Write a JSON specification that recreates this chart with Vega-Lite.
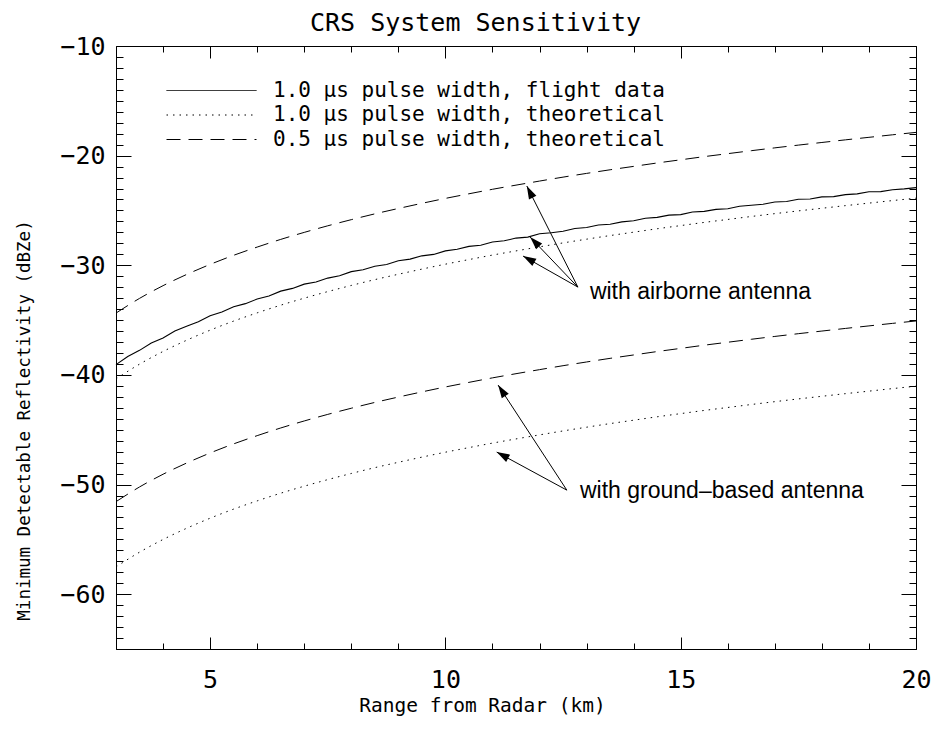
{
  "$schema": "https://vega.github.io/schema/vega-lite/v6.json",
  "width": 800,
  "height": 603,
  "autosize": {"type": "none"},
  "padding": {"left": 116, "top": 46, "right": 18, "bottom": 80},
  "background": "white",
  "config": {
    "view": {"stroke": "black", "strokeWidth": 1},
    "axis": {"domain": false, "grid": false, "tickColor": "black", "tickWidth": 1, "labelColor": "black", "titleColor": "black"}
  },
  "datasets": {
    "theory": [
      {"r": 3, "a05": -34.36, "a10": -40.36, "g05": -51.56, "g10": -57.51},
      {"r": 3.5, "a05": -33.02, "a10": -39.02, "g05": -50.22, "g10": -56.17},
      {"r": 4, "a05": -31.86, "a10": -37.86, "g05": -49.06, "g10": -55.01},
      {"r": 4.5, "a05": -30.84, "a10": -36.84, "g05": -48.04, "g10": -53.99},
      {"r": 5, "a05": -29.92, "a10": -35.92, "g05": -47.12, "g10": -53.07},
      {"r": 5.5, "a05": -29.09, "a10": -35.09, "g05": -46.29, "g10": -52.24},
      {"r": 6, "a05": -28.34, "a10": -34.34, "g05": -45.54, "g10": -51.49},
      {"r": 6.5, "a05": -27.64, "a10": -33.64, "g05": -44.84, "g10": -50.79},
      {"r": 7, "a05": -27.0, "a10": -33.0, "g05": -44.2, "g10": -50.15},
      {"r": 7.5, "a05": -26.4, "a10": -32.4, "g05": -43.6, "g10": -49.55},
      {"r": 8, "a05": -25.84, "a10": -31.84, "g05": -43.04, "g10": -48.99},
      {"r": 8.5, "a05": -25.31, "a10": -31.31, "g05": -42.51, "g10": -48.46},
      {"r": 9, "a05": -24.82, "a10": -30.82, "g05": -42.02, "g10": -47.97},
      {"r": 9.5, "a05": -24.35, "a10": -30.35, "g05": -41.55, "g10": -47.5},
      {"r": 10, "a05": -23.9, "a10": -29.9, "g05": -41.1, "g10": -47.05},
      {"r": 10.5, "a05": -23.48, "a10": -29.48, "g05": -40.68, "g10": -46.63},
      {"r": 11, "a05": -23.07, "a10": -29.07, "g05": -40.27, "g10": -46.22},
      {"r": 11.5, "a05": -22.69, "a10": -28.69, "g05": -39.89, "g10": -45.84},
      {"r": 12, "a05": -22.32, "a10": -28.32, "g05": -39.52, "g10": -45.47},
      {"r": 12.5, "a05": -21.96, "a10": -27.96, "g05": -39.16, "g10": -45.11},
      {"r": 13, "a05": -21.62, "a10": -27.62, "g05": -38.82, "g10": -44.77},
      {"r": 13.5, "a05": -21.29, "a10": -27.29, "g05": -38.49, "g10": -44.44},
      {"r": 14, "a05": -20.98, "a10": -26.98, "g05": -38.18, "g10": -44.13},
      {"r": 14.5, "a05": -20.67, "a10": -26.67, "g05": -37.87, "g10": -43.82},
      {"r": 15, "a05": -20.38, "a10": -26.38, "g05": -37.58, "g10": -43.53},
      {"r": 15.5, "a05": -20.09, "a10": -26.09, "g05": -37.29, "g10": -43.24},
      {"r": 16, "a05": -19.82, "a10": -25.82, "g05": -37.02, "g10": -42.97},
      {"r": 16.5, "a05": -19.55, "a10": -25.55, "g05": -36.75, "g10": -42.7},
      {"r": 17, "a05": -19.29, "a10": -25.29, "g05": -36.49, "g10": -42.44},
      {"r": 17.5, "a05": -19.04, "a10": -25.04, "g05": -36.24, "g10": -42.19},
      {"r": 18, "a05": -18.8, "a10": -24.8, "g05": -36.0, "g10": -41.95},
      {"r": 18.5, "a05": -18.56, "a10": -24.56, "g05": -35.76, "g10": -41.71},
      {"r": 19, "a05": -18.33, "a10": -24.33, "g05": -35.53, "g10": -41.48},
      {"r": 19.5, "a05": -18.1, "a10": -24.1, "g05": -35.3, "g10": -41.25},
      {"r": 20, "a05": -17.88, "a10": -23.88, "g05": -35.08, "g10": -41.03}
    ],
    "styles": [
      {"k": "a05", "style": "0.5 μs pulse width, theoretical"},
      {"k": "g05", "style": "0.5 μs pulse width, theoretical"},
      {"k": "a10", "style": "1.0 μs pulse width, theoretical"},
      {"k": "g10", "style": "1.0 μs pulse width, theoretical"}
    ],
    "flight": [
      {"r": 3, "v": -39.06}, {"r": 3.25, "v": -38.32}, {"r": 3.5, "v": -37.76}, {"r": 3.75, "v": -37.09},
      {"r": 4, "v": -36.63}, {"r": 4.25, "v": -36.0}, {"r": 4.5, "v": -35.57}, {"r": 4.75, "v": -35.16},
      {"r": 5, "v": -34.61}, {"r": 5.25, "v": -34.26}, {"r": 5.5, "v": -33.78}, {"r": 5.75, "v": -33.5},
      {"r": 6, "v": -33.08}, {"r": 6.25, "v": -32.8}, {"r": 6.5, "v": -32.36}, {"r": 6.75, "v": -32.11},
      {"r": 7, "v": -31.72}, {"r": 7.25, "v": -31.53}, {"r": 7.5, "v": -31.17}, {"r": 7.75, "v": -30.95},
      {"r": 8, "v": -30.58}, {"r": 8.25, "v": -30.41}, {"r": 8.5, "v": -30.09}, {"r": 8.75, "v": -29.93},
      {"r": 9, "v": -29.59}, {"r": 9.25, "v": -29.44}, {"r": 9.5, "v": -29.14}, {"r": 9.75, "v": -29.01},
      {"r": 10, "v": -28.69}, {"r": 10.25, "v": -28.54}, {"r": 10.5, "v": -28.28}, {"r": 10.75, "v": -28.17},
      {"r": 11, "v": -27.88}, {"r": 11.25, "v": -27.77}, {"r": 11.5, "v": -27.52}, {"r": 11.75, "v": -27.43},
      {"r": 12, "v": -27.12}, {"r": 12.25, "v": -27.03}, {"r": 12.5, "v": -26.9}, {"r": 12.75, "v": -26.64},
      {"r": 13, "v": -26.55}, {"r": 13.25, "v": -26.33}, {"r": 13.5, "v": -26.26}, {"r": 13.75, "v": -26.04},
      {"r": 14, "v": -25.94}, {"r": 14.25, "v": -25.71}, {"r": 14.5, "v": -25.63}, {"r": 14.75, "v": -25.43},
      {"r": 15, "v": -25.38}, {"r": 15.25, "v": -25.14}, {"r": 15.5, "v": -25.08}, {"r": 15.75, "v": -24.9},
      {"r": 16, "v": -24.84}, {"r": 16.25, "v": -24.62}, {"r": 16.5, "v": -24.53}, {"r": 16.75, "v": -24.44},
      {"r": 17, "v": -24.23}, {"r": 17.25, "v": -24.19}, {"r": 17.5, "v": -23.98}, {"r": 17.75, "v": -23.95},
      {"r": 18, "v": -23.76}, {"r": 18.25, "v": -23.74}, {"r": 18.5, "v": -23.56}, {"r": 18.75, "v": -23.49},
      {"r": 19, "v": -23.3}, {"r": 19.25, "v": -23.28}, {"r": 19.5, "v": -23.11}, {"r": 19.75, "v": -23.03},
      {"r": 20, "v": -22.92}
    ],
    "arrows": [
      {"bx": 12.815, "by": -31.99, "tx": 11.73, "ty": -22.77, "ang": 333.2},
      {"bx": 12.815, "by": -31.99, "tx": 11.8, "ty": -27.43, "ang": 316.2},
      {"bx": 12.815, "by": -31.99, "tx": 11.65, "ty": -29.16, "ang": 299.4},
      {"bx": 12.58, "by": -50.51, "tx": 11.12, "ty": -40.93, "ang": 326.7},
      {"bx": 12.58, "by": -50.51, "tx": 11.09, "ty": -47.04, "ang": 298.5}
    ],
    "notes": [
      {"x": 13.07, "y": -33.11, "t": "with airborne antenna"},
      {"x": 12.86, "y": -51.27, "t": "with ground–based antenna"}
    ]
  },
  "layer": [
    {
      "data": {"name": "theory"},
      "transform": [
        {"fold": ["a05", "a10", "g05", "g10"], "as": ["k", "v"]},
        {"lookup": "k", "from": {"data": {"name": "styles"}, "key": "k", "fields": ["style"]}}
      ],
      "mark": {"type": "line", "color": "black", "strokeWidth": 1, "interpolate": "monotone"},
      "encoding": {
        "x": {
          "field": "r", "type": "quantitative",
          "scale": {"domain": [3, 20], "nice": false, "zero": false},
          "axis": {
            "orient": "bottom",
            "values": [3, 4, 5, 6, 7, 8, 9, 10, 11, 12, 13, 14, 15, 16, 17, 18, 19, 20],
            "labelExpr": "datum.value % 5 === 0 ? datum.label : ''",
            "labelFont": "DejaVu Sans Mono", "labelFontSize": 25, "labelBaseline": "top",
            "labelPadding": 30, "labelOverlap": false, "labelFlush": false,
            "tickSize": {"condition": {"test": "datum.value % 5 === 0", "value": -12}, "value": -6},
            "title": "Range from Radar (km)", "titleFont": "DejaVu Sans Mono", "titleFontSize": 19.5,
            "titleFontWeight": "normal", "titleX": 366, "titleY": 62, "titleBaseline": "alphabetic", "titleAlign": "center"
          }
        },
        "y": {
          "field": "v", "type": "quantitative",
          "scale": {"domain": [-65, -10], "nice": false, "zero": false},
          "axis": {
            "orient": "left",
            "values": [-65, -64, -63, -62, -61, -60, -59, -58, -57, -56, -55, -54, -53, -52, -51, -50, -49, -48, -47, -46, -45, -44, -43, -42, -41, -40, -39, -38, -37, -36, -35, -34, -33, -32, -31, -30, -29, -28, -27, -26, -25, -24, -23, -22, -21, -20, -19, -18, -17, -16, -15, -14, -13, -12, -11, -10],
            "labelExpr": "datum.value % 10 === 0 ? datum.label : ''",
            "labelFont": "DejaVu Sans Mono", "labelFontSize": 25,
            "labelPadding": 26, "labelOverlap": false, "labelFlush": false,
            "tickSize": {"condition": {"test": "datum.value % 10 === 0", "value": -15}, "value": -7},
            "title": "Minimum Detectable Reflectivity (dBZe)", "titleFont": "DejaVu Sans Mono", "titleFontSize": 17.5,
            "titleFontWeight": "normal", "titleX": -87, "titleY": 374, "titleAngle": -90, "titleBaseline": "alphabetic", "titleAlign": "center"
          }
        },
        "strokeDash": {
          "field": "style", "type": "nominal",
          "scale": {
            "domain": ["1.0 μs pulse width, flight data", "1.0 μs pulse width, theoretical", "0.5 μs pulse width, theoretical"],
            "range": [[1, 0], [1.5, 5], [14, 8]]
          },
          "legend": {
            "orient": "none", "legendX": 85, "legendY": 34, "title": null,
            "symbolType": "M-4.5,0L4.5,0", "symbolSize": 400, "symbolStrokeWidth": 1, "symbolStrokeColor": "black",
            "symbolFillColor": "transparent",
            "labelFont": "DejaVu Sans Mono", "labelFontSize": 21, "labelColor": "black", "labelOffset": 51,
            "labelLimit": 800, "rowPadding": 2.5, "padding": 0
          }
        },
        "detail": {"field": "k"}
      }
    },
    {
      "data": {"name": "flight"},
      "mark": {"type": "line", "color": "black", "strokeWidth": 1.1},
      "encoding": {
        "x": {"field": "r", "type": "quantitative", "axis": null},
        "y": {"field": "v", "type": "quantitative", "axis": null}
      }
    },
    {
      "data": {"name": "arrows"},
      "mark": {"type": "rule", "color": "black", "strokeWidth": 1},
      "encoding": {
        "x": {
          "field": "bx", "type": "quantitative",
          "axis": {
            "orient": "top", "labels": false,
            "values": [3, 4, 5, 6, 7, 8, 9, 10, 11, 12, 13, 14, 15, 16, 17, 18, 19, 20],
            "tickSize": {"condition": {"test": "datum.value % 5 === 0", "value": -12}, "value": -6},
            "title": "CRS System Sensitivity", "titleFont": "DejaVu Sans Mono", "titleFontSize": 25,
            "titleFontWeight": "normal", "titleX": 359, "titleY": -16, "titleBaseline": "alphabetic", "titleAlign": "center"
          }
        },
        "y": {
          "field": "by", "type": "quantitative",
          "axis": {
            "orient": "right", "title": null, "labels": false,
            "values": [-65, -64, -63, -62, -61, -60, -59, -58, -57, -56, -55, -54, -53, -52, -51, -50, -49, -48, -47, -46, -45, -44, -43, -42, -41, -40, -39, -38, -37, -36, -35, -34, -33, -32, -31, -30, -29, -28, -27, -26, -25, -24, -23, -22, -21, -20, -19, -18, -17, -16, -15, -14, -13, -12, -11, -10],
            "tickSize": {"condition": {"test": "datum.value % 10 === 0", "value": -15}, "value": -7}
          }
        },
        "x2": {"field": "tx"},
        "y2": {"field": "ty"}
      }
    },
    {
      "data": {"name": "arrows"},
      "mark": {"type": "point", "shape": "M0,0L-0.32,1L0.32,1Z", "filled": true, "color": "black", "opacity": 1, "size": 676, "strokeWidth": 0},
      "encoding": {
        "x": {"field": "tx", "type": "quantitative", "axis": null},
        "y": {"field": "ty", "type": "quantitative", "axis": null},
        "angle": {"field": "ang", "type": "quantitative", "scale": null}
      }
    },
    {
      "data": {"name": "notes"},
      "mark": {"type": "text", "align": "left", "baseline": "alphabetic", "font": "Liberation Sans", "fontSize": 23, "color": "black"},
      "encoding": {
        "x": {"field": "x", "type": "quantitative", "axis": null},
        "y": {"field": "y", "type": "quantitative", "axis": null},
        "text": {"field": "t"}
      }
    }
  ],
  "resolve": {"axis": {"x": "independent", "y": "independent"}}
}
